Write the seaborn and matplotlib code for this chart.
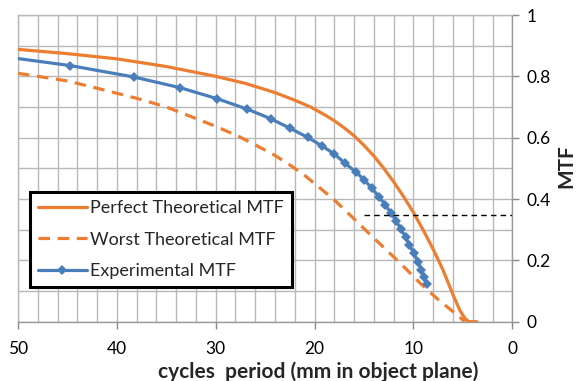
import matplotlib
matplotlib.use("Agg")
import matplotlib.pyplot as plt
import seaborn as sns
import pandas as pd
from matplotlib.ticker import MultipleLocator

# ---- data ----
perfect_x = [50, 45, 40, 35, 30, 27, 24, 22, 20.4, 19, 18, 17, 16, 15, 14, 13, 12, 11, 10, 9,
             8, 7, 6, 5.3, 4.8, 4.4, 3.6]
perfect_y = [0.888, 0.874, 0.857, 0.832, 0.800, 0.777, 0.747, 0.722, 0.700, 0.675, 0.655, 0.632,
             0.606, 0.575, 0.540, 0.500, 0.456, 0.408, 0.356, 0.298, 0.236, 0.168, 0.088, 0.037,
             0.011, 0.0, 0.0]

worst_x = [50, 45, 41.6, 37.6, 35, 32.6, 30, 27.6, 25.5, 24, 22.5, 21, 19.8, 18, 16, 14, 12.7,
           11, 9.3, 7.5, 6, 5.3, 4.8]
worst_y = [0.810, 0.785, 0.758, 0.725, 0.700, 0.670, 0.637, 0.603, 0.568, 0.542, 0.511, 0.477,
           0.445, 0.397, 0.335, 0.272, 0.233, 0.180, 0.125, 0.072, 0.033, 0.014, 0.0]

exp_x = [50, 44.7, 38.3, 33.6, 29.85, 26.8, 24.45, 22.5, 20.7, 19.25, 18.0, 16.9, 15.85, 15.0, 14.2,
         13.5, 12.85, 12.3, 11.75, 11.3, 10.8, 10.4, 9.95, 9.55, 9.2, 8.95, 8.65]
exp_y = [0.858, 0.835, 0.798, 0.763, 0.727, 0.693, 0.662, 0.631, 0.601, 0.573, 0.547, 0.516, 0.489,
         0.463, 0.435, 0.408, 0.381, 0.355, 0.329, 0.303, 0.277, 0.25, 0.223, 0.196, 0.17, 0.146,
         0.123]

ref_x = [15, 0]
ref_y = [0.347, 0.347]

labels = ["Perfect Theoretical MTF", "Worst Theoretical MTF", "Experimental MTF"]
x_ticks = [0, 10, 20, 30, 40, 50]
x_tick_labels = ["0", "10", "20", "30", "40", "50"]
y_ticks = [0, 0.2, 0.4, 0.6, 0.8, 1.0]
y_tick_labels = ["0", "0.2", "0.4", "0.6", "0.8", "1"]
x_label = "cycles  period (mm in object plane)"
y_label = "MTF"

# ---- style ----
sns.set_style("white")
plt.rcParams["font.family"] = ["Lato", "DejaVu Sans"]

ORANGE = "#ED7D31"
BLUE = "#4A7EBB"
GRID = "#b8b8b8"

fig = plt.figure(figsize=(5.76, 3.81), dpi=100)
ax = fig.add_axes([18 / 576, 1 - 321.7 / 381, (512.3 - 18) / 576, (321.7 - 15) / 381])

df_p = pd.DataFrame({"x": perfect_x, "y": perfect_y})
df_w = pd.DataFrame({"x": worst_x, "y": worst_y})
df_e = pd.DataFrame({"x": exp_x, "y": exp_y})
df_r = pd.DataFrame({"x": ref_x, "y": ref_y})

sns.lineplot(data=df_p, x="x", y="y", ax=ax, color=ORANGE, lw=2.3, sort=False,
             label=labels[0], zorder=4, solid_joinstyle="round")
sns.lineplot(data=df_w, x="x", y="y", ax=ax, color=ORANGE, lw=2.3, sort=False,
             label=labels[1], zorder=4, linestyle=(0, (3.6, 2.4)))
sns.lineplot(data=df_e, x="x", y="y", ax=ax, color=BLUE, lw=2.3, sort=False,
             label=labels[2], zorder=5, marker="D", markersize=5.5, markeredgewidth=0,
             markevery=list(range(1, len(exp_x))), solid_joinstyle="round")
sns.lineplot(data=df_r, x="x", y="y", ax=ax, color="black", lw=1.0, sort=False,
             zorder=6, linestyle=(0, (4, 3)), legend=False)

ax.set_xlim(50, 0)
ax.set_ylim(0, 1)
ax.set_xticks(x_ticks)
ax.set_xticklabels(x_tick_labels)
ax.set_yticks(y_ticks)
ax.set_yticklabels(y_tick_labels)
ax.xaxis.set_minor_locator(MultipleLocator(2))
ax.yaxis.set_minor_locator(MultipleLocator(0.1))
ax.yaxis.tick_right()
ax.yaxis.set_label_position("right")

ax.grid(True, which="both", color=GRID, lw=1.0, zorder=0)
ax.set_axisbelow(True)
ax.tick_params(axis="both", which="major", direction="out", length=5, width=1, color="#888888",
               labelsize=12.5, labelcolor="black")
ax.tick_params(axis="y", which="major", right=True, left=False, pad=5)
ax.tick_params(axis="x", which="major", bottom=True, pad=9)
ax.tick_params(which="minor", length=0)
for side, sp in ax.spines.items():
    sp.set_color("#999999" if side in ("bottom", "right") else GRID)
    sp.set_linewidth(1.0)

ax.set_xlabel(x_label, fontsize=15, fontweight="bold", va="center")
ax.xaxis.set_label_coords((318 - 18) / 494.3, (321.7 - 372) / 306.7)
ax.set_ylabel(y_label, fontsize=15, fontweight="bold", va="center", ha="center")
ax.yaxis.set_label_coords((566 - 18) / 494.3, (321.7 - 166) / 306.7)

handles, labs = ax.get_legend_handles_labels()
leg = ax.legend(handles[:3], labs[:3], loc="lower left", bbox_to_anchor=(0.024, 0.113),
                fontsize=13, frameon=True, fancybox=False, framealpha=1, edgecolor="black",
                handlelength=2.7, handletextpad=0.2, labelspacing=0.85, borderpad=0.45,
                borderaxespad=0)
leg.get_frame().set_linewidth(2.2)
leg.set_zorder(10)

fig.savefig("out.png", dpi=100)
